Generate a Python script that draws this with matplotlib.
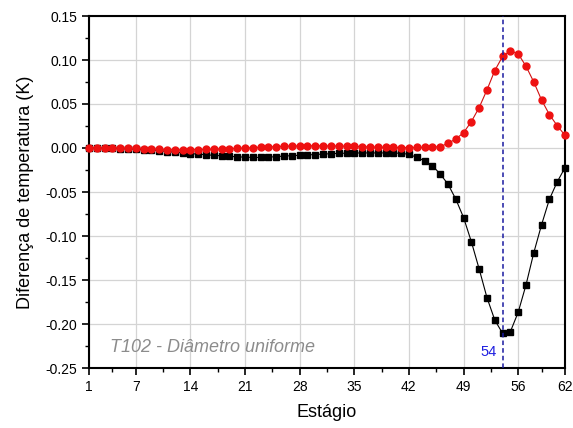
import numpy as np
import matplotlib
matplotlib.use("Agg")
import matplotlib.pyplot as plt
from matplotlib.ticker import MultipleLocator, FixedLocator

plt.rcParams['font.family'] = ['Liberation Sans', 'DejaVu Sans']

# stages
stage = np.arange(1, 63)

# black squares
dt_black = [0.000, 0.000, 0.000, -0.0003, -0.0006, -0.001, -0.0014, -0.002, -0.0025, -0.003,
            -0.004, -0.0048, -0.0056, -0.0063, -0.007, -0.0077, -0.0083, -0.0089, -0.0095, -0.0100,
            -0.0104, -0.0107, -0.0107, -0.0104, -0.0098, -0.0092, -0.0087, -0.0083, -0.0079, -0.0074,
            -0.0069, -0.0065, -0.0061, -0.0059, -0.0057, -0.0056, -0.0056, -0.0056, -0.0056, -0.0057,
            -0.0060, -0.0072, -0.0106, -0.0146, -0.020, -0.0295, -0.041, -0.058, -0.079, -0.1065,
            -0.1375, -0.170, -0.1955, -0.2106, -0.2087, -0.1867, -0.1557, -0.119, -0.0871, -0.0583,
            -0.0385, -0.0224]

# red circles
dt_red = [0.000, 0.0001, 0.000, 0.0001, 0.000, -0.0003, -0.0005, -0.001, -0.0013, -0.0017,
          -0.002, -0.002, -0.002, -0.0019, -0.0018, -0.0016, -0.0013, -0.001, -0.0007, -0.0004,
          0.000, 0.0004, 0.0008, 0.0012, 0.0016, 0.002, 0.0022, 0.0024, 0.0025, 0.0025,
          0.0024, 0.0023, 0.0022, 0.002, 0.0018, 0.0015, 0.0012, 0.001, 0.0008, 0.0006,
          0.0005, 0.0005, 0.0006, 0.0008, 0.0011, 0.0015, 0.0053, 0.0102, 0.0174, 0.030,
          0.046, 0.066, 0.088, 0.104, 0.1106, 0.107, 0.093, 0.075, 0.0545, 0.038,
          0.0254, 0.0144]

xticks = [1, 7, 14, 21, 28, 35, 42, 49, 56, 62]
x_mark = 54

fig = plt.figure(figsize=(5.73, 4.28), dpi=100)
ax = fig.add_axes([89/573, 1 - 368/428, 476/573, 352/428])

ax.grid(True, color='#d4d4d4', linewidth=0.9, zorder=0)
ax.plot(stage, dt_black, color='black', linewidth=0.8, marker='s', markersize=4.2,
        markerfacecolor='black', markeredgecolor='black', zorder=3, clip_on=False)
ax.plot(stage, dt_red, color='#d01010', linewidth=0.8, marker='o', markersize=5,
        markerfacecolor='#ee1111', markeredgecolor='#ee1111', zorder=4, clip_on=False)

ax.axvline(x_mark, color='#1a1aa0', linestyle=(0, (3, 2)), linewidth=1.1, zorder=5)
ax.text(x_mark - 0.75, -0.232, '54', color='#1f1fe0', fontsize=10.5, ha='right', va='center')
ax.text(3.7, -0.227, 'T102 - Diâmetro uniforme', color='#8c8c8c', fontsize=13,
        style='italic', ha='left', va='center')

ax.set_xlim(1, 62)
ax.set_ylim(-0.25, 0.15)
ax.xaxis.set_major_locator(FixedLocator(xticks))
mids = [(a + b) / 2 for a, b in zip(xticks[:-1], xticks[1:])]
ax.xaxis.set_minor_locator(FixedLocator(mids))
ax.yaxis.set_major_locator(MultipleLocator(0.05))
ax.yaxis.set_minor_locator(MultipleLocator(0.025))
ax.yaxis.set_major_formatter(plt.FuncFormatter(lambda v, p: f'{v:.2f}'))

ax.tick_params(which='major', direction='out', length=5, width=1.2, labelsize=10, colors='black')
ax.tick_params(which='minor', direction='out', length=3, width=1.0)
for s in ax.spines.values():
    s.set_linewidth(1.5)
    s.set_color('black')

ax.set_xlabel('Estágio', fontsize=13, labelpad=7)
ax.set_ylabel('Diferença de temperatura (K)', fontsize=13, labelpad=8)

fig.savefig('out.png', dpi=100)
